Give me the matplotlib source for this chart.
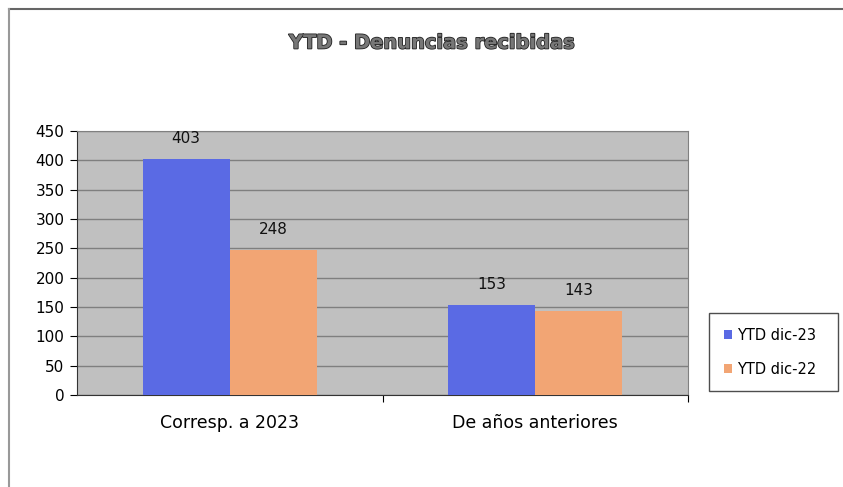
import matplotlib
matplotlib.use("Agg")
import matplotlib.pyplot as plt
import matplotlib.patheffects as pe
import numpy as np

categories = ["Corresp. a 2023", "De años anteriores"]
series_names = ["YTD dic-23", "YTD dic-22"]
ytd_dic23 = [403, 153]
ytd_dic22 = [248, 143]
yticks = [0, 50, 100, 150, 200, 250, 300, 350, 400, 450]

BLUE, ORANGE = "#5A6AE4", "#F2A574"
W, H = 843, 487
fig = plt.figure(figsize=(W / 100, H / 100), dpi=100)
fig.patch.set_facecolor("white")

# outer chart frame (only top + left edges are visible)
fig.add_artist(plt.Line2D([9 / W, 1], [1 - 9 / H] * 2, color="#666666", lw=1.5))
fig.add_artist(plt.Line2D([9 / W] * 2, [1 - 9 / H, 0], color="#999999", lw=1.5))

ax = fig.add_axes([77 / W, 1 - 395 / H, 611 / W, 264 / H])
ax.set_facecolor("#C0C0C0")
x = np.arange(len(categories))
bw = 0.285
b1 = ax.bar(x - bw / 2, ytd_dic23, bw, color=BLUE, label=series_names[0], zorder=3)
b2 = ax.bar(x + bw / 2, ytd_dic22, bw, color=ORANGE, label=series_names[1], zorder=3)
for bars in (b1, b2):
    for r in bars:
        ax.text(r.get_x() + r.get_width() / 2, r.get_height() + 22, str(int(r.get_height())),
                ha="center", va="bottom", fontsize=11, color="#111111")

ax.set_xlim(-0.5, 1.5)
ax.set_ylim(0, 450)
ax.set_yticks(yticks)
ax.tick_params(axis="y", labelsize=11, length=5, direction="out", pad=4)
ax.yaxis.grid(True, color="#7f7f7f", lw=1, zorder=1)
# category boundaries get tick marks, labels sit at category centres
ax.set_xticks([0.5, 1.5])
ax.set_xticklabels([])
ax.set_xticks(x, minor=True)
ax.set_xticklabels(categories, minor=True, fontsize=12.5)
ax.tick_params(axis="x", which="minor", length=0, pad=14)
ax.tick_params(axis="x", which="major", length=5, direction="out")
for s in ("top", "right"):
    ax.spines[s].set_color("#808080")
for s in ("left", "bottom"):
    ax.spines[s].set_color("#333333")

fig.text(432 / W, 1 - 43 / H, "YTD - Denuncias recibidas", ha="center", va="center",
         fontsize=14, fontweight="bold", color="#777777",
         path_effects=[pe.withStroke(linewidth=1.2, foreground="#222222")])

leg = fig.legend(handles=[b1, b2], labels=series_names, loc="upper left", mode="expand",
                 bbox_to_anchor=(709 / W, 1 - 313 / H, 129 / W, 0), fontsize=10.5,
                 frameon=True, fancybox=False, edgecolor="#222222",
                 handlelength=0.6, handleheight=0.6, handletextpad=0.3,
                 labelspacing=1.3, borderpad=1.0, borderaxespad=0)
leg.get_frame().set_linewidth(1)

fig.savefig("out.png", dpi=100)
